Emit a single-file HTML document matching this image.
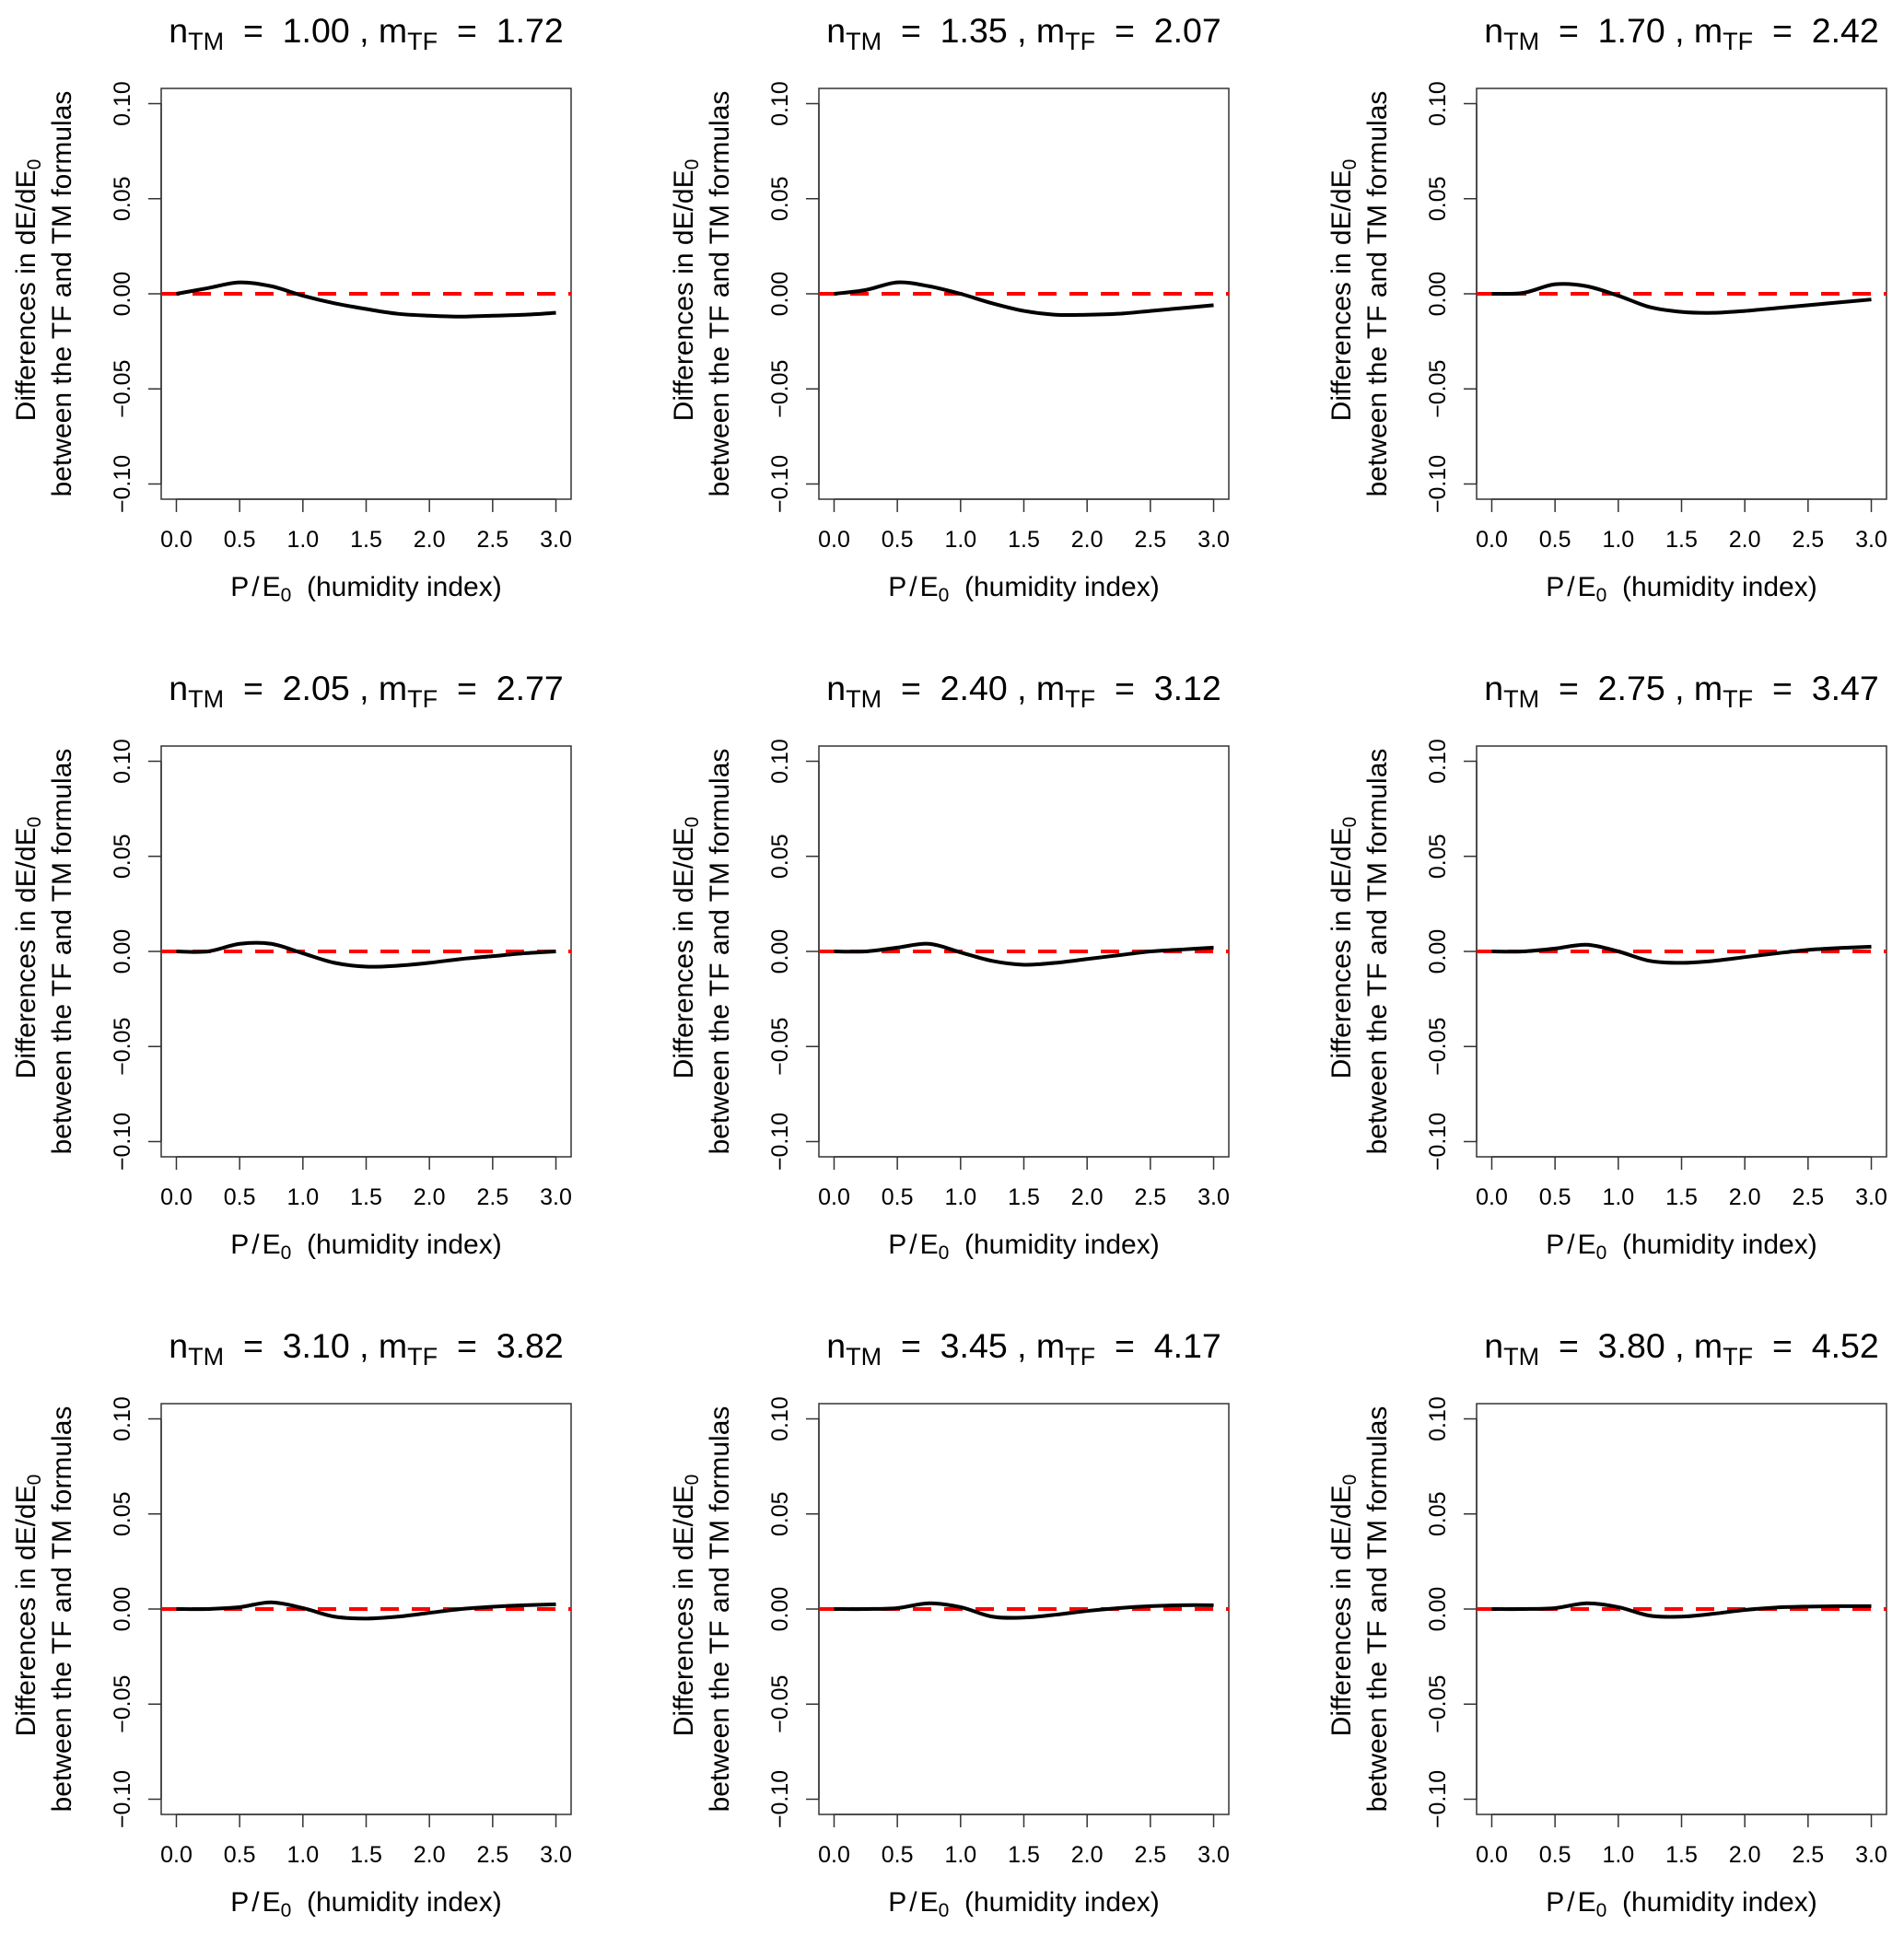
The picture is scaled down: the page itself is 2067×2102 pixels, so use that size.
<!DOCTYPE html>
<html><head><meta charset="utf-8"><style>
html,body{margin:0;padding:0;background:#fff;}
svg{display:block;font-family:"Liberation Sans",Arial,sans-serif;}
</style></head><body>
<svg id="fig" width="2067" height="2102" viewBox="0 0 2067 2102" xmlns="http://www.w3.org/2000/svg"></svg>
<script>
const xVals = [0,0.25,0.5,0.75,1.0,1.25,1.5,1.75,2.0,2.25,2.5,2.75,3.0];
const nTM = ["1.00","1.35","1.70","2.05","2.40","2.75","3.10","3.45","3.80"];
const mTF = ["1.72","2.07","2.42","2.77","3.12","3.47","3.82","4.17","4.52"];
const s1 = [0,0.003,0.006,0.004,-0.001,-0.005,-0.008,-0.0105,-0.0115,-0.012,-0.0115,-0.011,-0.010];
const s2 = [0,0.002,0.006,0.004,0,-0.005,-0.009,-0.011,-0.011,-0.0105,-0.009,-0.0075,-0.006];
const s3 = [0,0.0005,0.005,0.004,-0.001,-0.007,-0.0095,-0.010,-0.009,-0.0075,-0.006,-0.0045,-0.003];
const s4 = [0,0,0.004,0.004,-0.001,-0.006,-0.008,-0.0075,-0.006,-0.004,-0.0025,-0.001,0.0];
const s5 = [0,0,0.002,0.004,-0.0005,-0.005,-0.007,-0.006,-0.004,-0.002,0,0.001,0.002];
const s6 = [0,0,0.0015,0.0035,0,-0.005,-0.006,-0.005,-0.003,-0.001,0.0008,0.0018,0.0025];
const s7 = [0,0,0.001,0.0035,0.0005,-0.004,-0.005,-0.004,-0.002,0,0.0012,0.002,0.0025];
const s8 = [0,0,0.0005,0.003,0.001,-0.004,-0.0045,-0.003,-0.001,0.0005,0.0015,0.002,0.002];
const s9 = [0,0,0.0005,0.003,0.001,-0.0035,-0.004,-0.0025,-0.0005,0.0008,0.0013,0.0015,0.0015];
const series = [s1,s2,s3,s4,s5,s6,s7,s8,s9];
const xTicks = [0,0.5,1,1.5,2,2.5,3];
const xTickLabels = ["0.0","0.5","1.0","1.5","2.0","2.5","3.0"];
const yTicks = [-0.1,-0.05,0,0.05,0.1];
const yTickLabels = ["\u22120.10","\u22120.05","0.00","0.05","0.10"];

const NS="http://www.w3.org/2000/svg";
const svg=document.getElementById('fig');
function mk(tag,attrs,parent){const e=document.createElementNS(NS,tag);for(const k in attrs)e.setAttribute(k,attrs[k]);(parent||svg).appendChild(e);return e;}

for(let p=0;p<9;p++){
  const col=p%3,row=Math.floor(p/3);
  const ox=col*714, oy=row*714;
  const L=ox+175,R=ox+620,T=oy+96,B=oy+542;
  const xmin=-0.12,xmax=3.12,ymin=-0.108,ymax=0.108;
  const sx=v=>L+(v-xmin)/(xmax-xmin)*(R-L);
  const sy=v=>B-(v-ymin)/(ymax-ymin)*(B-T);
  const g=mk('g',{});
  
  
  const t=mk('text',{x:(L+R)/2,y:oy+46,'text-anchor':'middle','font-size':37.5},g);
  
  
  const parts=[["n",0],["TM",1],["  =  "+nTM[p]+" , m",0],["TF",1],["  =  "+mTF[p],0]];
  parts.forEach(([s,sub])=>{const ts=mk('tspan',sub?{'font-size':27,dy:8}:{dy:0},t);if(!sub&&t.childNodes.length>1)ts.setAttribute('dy',-8);ts.setAttribute('xml:space','preserve');ts.textContent=s;});
  t.setAttribute('style','white-space:pre');
  const box=mk('rect',{x:L,y:T,width:R-L,height:B-T,fill:'none',stroke:'#333','stroke-width':1.5},g);
  
  
  const xa=mk('g',{},g);
  
  
  mk('line',{x1:sx(xTicks[0]),x2:sx(xTicks[xTicks.length-1]),y1:B,y2:B,stroke:'#333','stroke-width':1.5},xa);
  xTicks.forEach((v,i)=>{
    mk('line',{x1:sx(v),x2:sx(v),y1:B,y2:B+14,stroke:'#333','stroke-width':1.5},xa);
    const tl=mk('text',{x:sx(v),y:B+52,'text-anchor':'middle','font-size':25},xa);
    
    
    tl.textContent=xTickLabels[i];
  });
  const xt=mk('text',{x:(L+R)/2,y:oy+647,'text-anchor':'middle','font-size':30},g);
  
  
  xt.innerHTML='P<tspan dx="3">/</tspan><tspan dx="3">E</tspan><tspan font-size="21" dy="6">0</tspan><tspan dy="-6" xml:space="preserve">  (humidity index)</tspan>';
  const ya=mk('g',{},g);
  
  
  mk('line',{x1:L,x2:L,y1:sy(yTicks[0]),y2:sy(yTicks[yTicks.length-1]),stroke:'#333','stroke-width':1.5},ya);
  yTicks.forEach((v,i)=>{
    mk('line',{x1:L,x2:L-14,y1:sy(v),y2:sy(v),stroke:'#333','stroke-width':1.5},ya);
    const tx=L-43, ty=sy(v);
    const tl=mk('text',{x:tx,y:ty,'text-anchor':'middle','font-size':25,transform:`rotate(-90 ${tx} ${ty})`,dy:9},ya);
    
    
    tl.textContent=yTickLabels[i];
  });
  const cy=(T+B)/2-4;
  const y1=mk('text',{x:ox+38,y:cy,'text-anchor':'middle','font-size':30,transform:`rotate(-90 ${ox+38} ${cy})`},g);
  
  
  y1.innerHTML='Differences in dE/dE<tspan font-size="21" dy="6">0</tspan>';
  const y2=mk('text',{x:ox+77,y:cy+4,'text-anchor':'middle','font-size':30,transform:`rotate(-90 ${ox+77} ${cy+4})`},g);
  
  
  y2.textContent='between the TF and TM formulas';
  const zl=mk('line',{x1:L,x2:R,y1:sy(0),y2:sy(0),stroke:'#ff0000','stroke-width':4,'stroke-dasharray':'20 14'},g);
  
  
  const ys=series[p];
  const pts=xVals.map((x,i)=>[sx(x),sy(ys[i])]);
  let d=`M${pts[0][0]},${pts[0][1]}`;
  for(let i=0;i<pts.length-1;i++){
    const p0=pts[Math.max(i-1,0)],p1=pts[i],p2=pts[i+1],p3=pts[Math.min(i+2,pts.length-1)];
    const c1=[p1[0]+(p2[0]-p0[0])/6,p1[1]+(p2[1]-p0[1])/6];
    const c2=[p2[0]-(p3[0]-p1[0])/6,p2[1]-(p3[1]-p1[1])/6];
    d+=` C${c1[0]},${c1[1]} ${c2[0]},${c2[1]} ${p2[0]},${p2[1]}`;
  }
  const c=mk('path',{d:d,fill:'none',stroke:'#000','stroke-width':4,'stroke-linejoin':'round'},g);
  
  
}
</script>
</body></html>
